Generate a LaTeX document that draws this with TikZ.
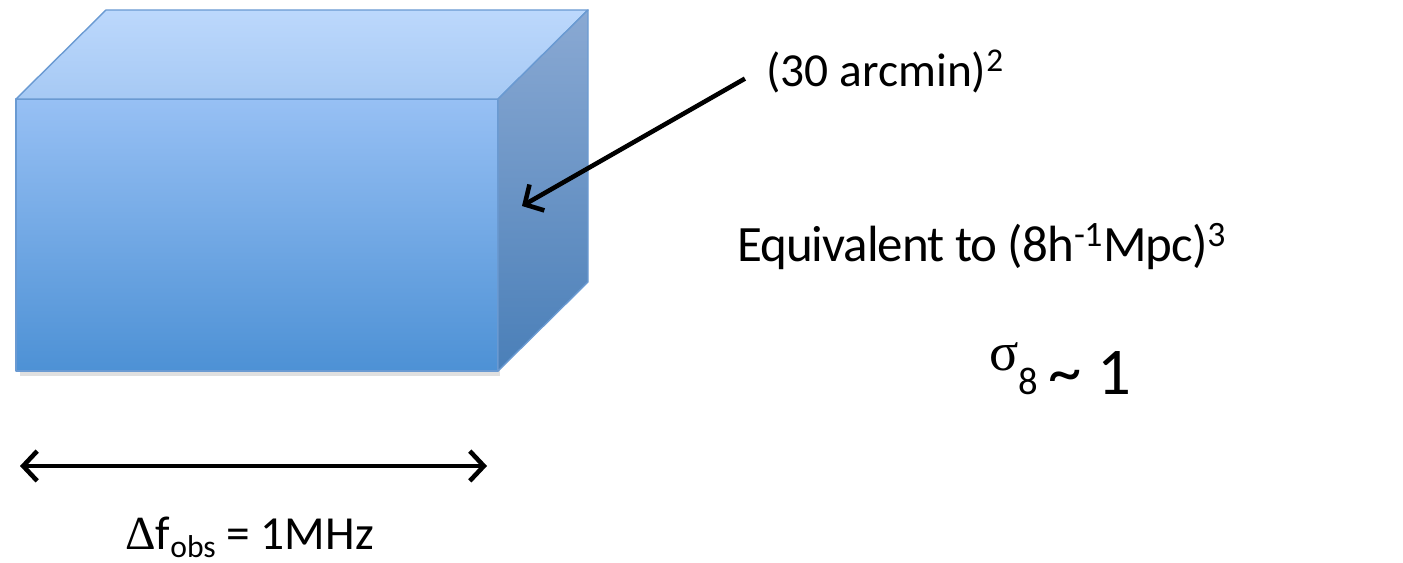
\documentclass[tikz,border=0pt]{standalone}
\usepackage{fontspec}
\setmainfont{Carlito}
\newfontfamily\grkfont{Liberation Serif}
\usetikzlibrary{arrows.meta,positioning}

\definecolor{frontTop}{HTML}{97C0F4}
\definecolor{frontBot}{HTML}{4D91D5}
\definecolor{topBack}{HTML}{BCD8FC}
\definecolor{topFront}{HTML}{A6C9F4}
\definecolor{sideTop}{HTML}{8AA9D3}
\definecolor{sideBot}{HTML}{4A7FB8}
\definecolor{boxEdge}{HTML}{6A9AD2}

\tikzset{
  face/.style={draw=boxEdge, line width=0.8pt, line join=round},
  pointer/.style={line width=2.6pt, -{Straight Barb[length=8pt,width=17pt,line width=2.6pt]}},
  span/.style={line width=2.6pt, {Straight Barb[length=8pt,width=17pt,line width=2.6pt]}-{Straight Barb[length=8pt,width=17pt,line width=2.6pt]}},
  bigtext/.style={font=\fontsize{29}{35}\selectfont\addfontfeature{LetterSpace=-2}},
  smalltext/.style={font=\fontsize{27}{32}\selectfont},
  lbl/.style={inner sep=0pt, anchor=base west}
}

\begin{document}
\begin{tikzpicture}[x=0.02cm, y=-0.02cm]
  \useasboundingbox (0,0) rectangle (1403,563);

  % the box
  \fill[black!12] (20,104) rectangle (500,376);
  \shade[face, top color=frontTop, bottom color=frontBot] (16,99) rectangle (498,371);
  \shade[face, top color=topBack, bottom color=topFront] (16,99) -- (106,10) -- (588,10) -- (498,99) -- cycle;
  \shade[face, top color=sideTop, bottom color=sideBot] (498,99) -- (588,10) -- (588,282) -- (498,371) -- cycle;

  \node[smalltext, lbl] (area) at (766,87) {(30 arcmin)\textsuperscript{2}};
  \coordinate (face) at (522,206);
  \draw[pointer] ([xshift=-12pt,yshift=-4pt]area.west) -- (face);

  \node[bigtext, lbl] (equiv) at (737,262) {Equivalent to (8h\textsuperscript{-1}Mpc)\textsuperscript{3}};
  \node[lbl] (sigma) at (989,395) {\raisebox{14pt}{\grkfont\fontsize{31}{34}\selectfont σ}{\fontsize{22}{26}\selectfont 8}\hspace{6pt}{\fontsize{38}{42}\selectfont \textasciitilde{} 1}};

  % bandwidth
  \coordinate (fl) at (20,466);
  \coordinate (fr) at (487,466);
  \draw[span] (fl) -- (fr);
  \node[smalltext, lbl] (band) at (125,550) {{\grkfont Δ}f\raisebox{-4pt}{\fontsize{18}{20}\selectfont obs} = 1MHz};
\end{tikzpicture}
\end{document}
